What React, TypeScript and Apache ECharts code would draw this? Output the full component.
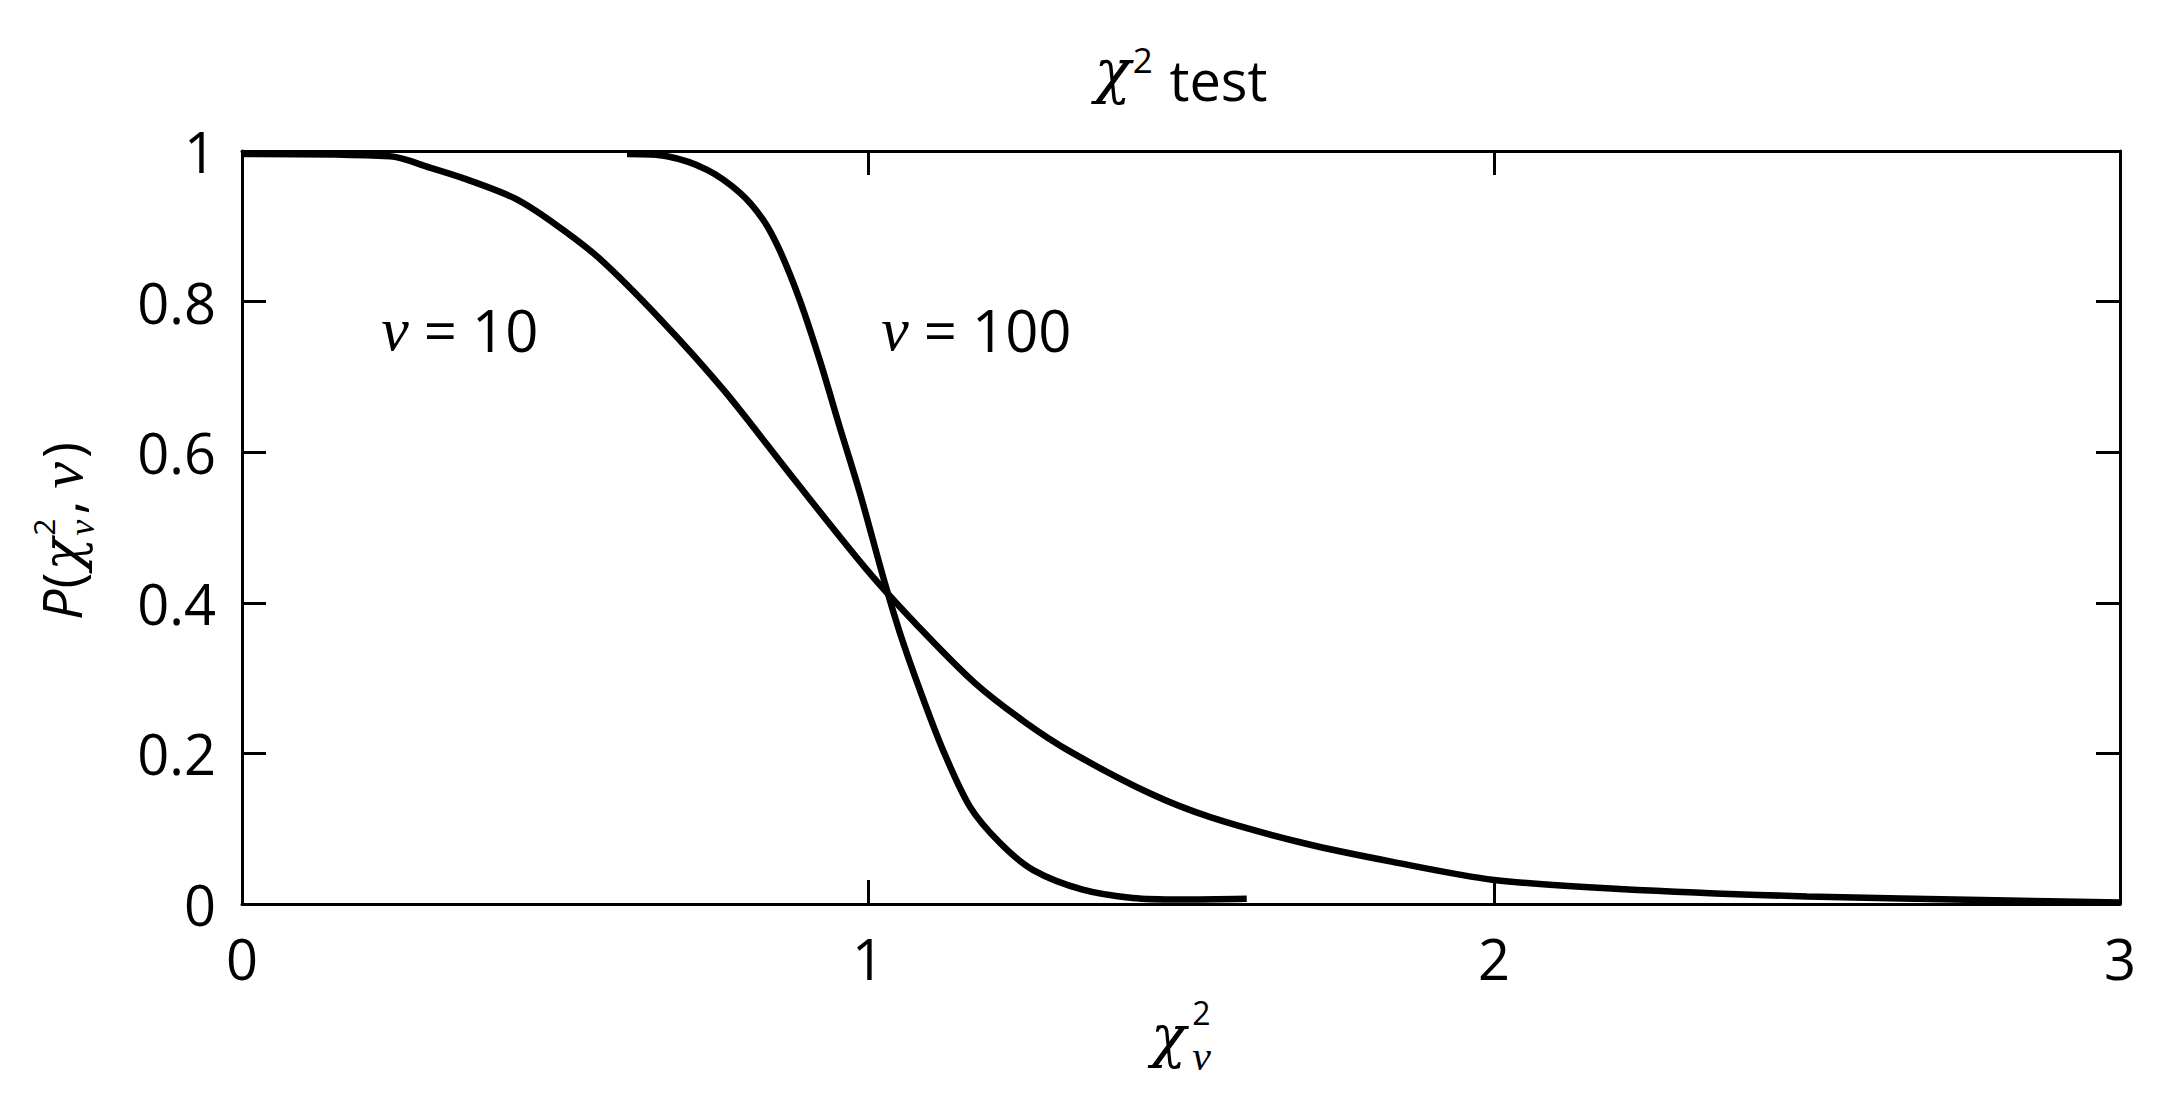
import React, { useEffect, useRef } from "react";
import * as echarts from "echarts";

// ---- data ----
const xTicks = [0, 1, 2, 3];
const yTicks = [0, 0.2, 0.4, 0.6, 0.8, 1];

const nu10X = [0, 0.236, 0.3, 0.36, 0.436, 0.5, 0.57, 0.67, 0.77, 0.881, 1.0, 1.081, 1.17, 1.25, 1.326, 1.45, 1.548, 1.7, 1.838, 2.0, 2.2, 2.5, 2.8, 3.0];
const nu10Y = [0.996, 0.993, 0.978, 0.962, 0.937, 0.903, 0.858, 0.775, 0.682, 0.565, 0.442, 0.368, 0.294, 0.242, 0.201, 0.147, 0.115, 0.08, 0.056, 0.032, 0.02, 0.01, 0.005, 0.002];

const nu100X = [0.615, 0.679, 0.743, 0.796, 0.833, 0.859, 0.891, 0.923, 0.955, 0.987, 1.027, 1.051, 1.083, 1.12, 1.163, 1.211, 1.264, 1.343, 1.423, 1.5, 1.605];
const nu100Y = [0.996, 0.993, 0.975, 0.944, 0.908, 0.868, 0.802, 0.722, 0.633, 0.546, 0.426, 0.36, 0.284, 0.204, 0.129, 0.081, 0.045, 0.019, 0.008, 0.006, 0.007];

const curveLabels = [
  { name: "10", x: 0.348, y: 0.763 },
  { name: "100", x: 1.173, y: 0.763 },
];

const SANS = "'Open Sans', 'Noto Sans', sans-serif";
const SERIF = "'Liberation Serif', 'DejaVu Serif', serif";
const CHI = "'DejaVu Serif', 'Liberation Serif', serif";

type Piece = { t: string; size: number; serif?: boolean; chi?: boolean; italic?: boolean; base?: number; stack?: boolean; gap?: number; dx?: number };

let measureCtx: CanvasRenderingContext2D | null = null;
function fontStr(p: Piece) {
  const fam = p.chi ? CHI : p.serif ? SERIF : SANS;
  return `${p.italic ? "italic " : ""}${p.size}px ${fam}`;
}
function measure(p: Piece) {
  if (!measureCtx) measureCtx = document.createElement("canvas").getContext("2d");
  if (!measureCtx) return p.t.length * p.size * 0.55;
  measureCtx.font = fontStr(p);
  return measureCtx.measureText(p.t).width;
}

function buildGroup(pieces: Piece[], x: number, y: number, rotation = 0) {
  let cursor = 0;
  let pending = 0;
  const items: any[] = [];
  for (const p of pieces) {
    const w = measure(p);
    const k = p.chi ? 0.36 : p.serif ? 0.3375 : 0.388;
    items.push({ p, x: cursor + (p.dx || 0), y: (p.base || 0) - k * p.size });
    if (p.stack) {
      pending = Math.max(pending, w);
    } else {
      cursor += Math.max(w, pending) + (p.gap || 0);
      pending = 0;
    }
  }
  const total = cursor;
  return {
    type: "group",
    x,
    y,
    rotation,
    silent: true,
    children: items.map((it) => ({
      type: "text",
      x: it.x - total / 2,
      y: it.y,
      style: {
        text: it.p.t,
        font: fontStr(it.p),
        fill: "#000",
        align: "left",
        verticalAlign: "middle",
      },
    })),
  };
}

export default function App() {
  const ref = useRef<HTMLDivElement>(null);

  useEffect(() => {
    if (!ref.current) return;
    const chart = echarts.init(ref.current, undefined, { renderer: "svg" });

    const axisLine = { show: true, onZero: false, lineStyle: { color: "#000", width: 3 } };
    const axisTick = { show: true, inside: true, length: 24, lineStyle: { color: "#000", width: 3 } };
    const labelStyle = { color: "#000", fontSize: 56, fontFamily: SANS };

    const title = buildGroup(
      [
        { t: "χ", size: 60, chi: true, italic: true, base: -8, gap: 2 },
        { t: "2", size: 35, base: -28, gap: 2 },
        { t: " test", size: 56, base: 0 },
      ],
      1181,
      101
    );

    const xName = buildGroup(
      [
        { t: "χ", size: 58, chi: true, italic: true, base: 2, gap: 6 },
        { t: "2", size: 32, base: -30, stack: true },
        { t: "ν", size: 42, serif: true, italic: true, base: 15 },
      ],
      1181,
      1055
    );

    const yName = buildGroup(
      [
        { t: "P", size: 54, italic: true, gap: 1 },
        { t: "(", size: 54, gap: 2 },
        { t: "χ", size: 54, chi: true, italic: true, gap: 2 },
        { t: "2", size: 30, base: -27, stack: true },
        { t: "ν", size: 36, serif: true, italic: true, base: 12, gap: 4 },
        { t: ",", size: 54, gap: 12 },
        { t: "ν", size: 60, serif: true, italic: true, gap: 4 },
        { t: ")", size: 54 },
      ],
      82,
      531,
      Math.PI / 2
    );

    const option: any = {
      animation: false,
      backgroundColor: "#fff",
      grid: { left: 242, right: 63, top: 151, bottom: 197 },
      xAxis: [
        {
          type: "value",
          min: xTicks[0],
          max: xTicks[xTicks.length - 1],
          interval: 1,
          position: "bottom",
          axisLine,
          axisTick,
          axisLabel: { ...labelStyle, margin: 26 },
          splitLine: { show: false },
        },
        {
          type: "value",
          min: xTicks[0],
          max: xTicks[xTicks.length - 1],
          interval: 1,
          position: "top",
          axisLine,
          axisTick,
          axisLabel: { show: false },
          splitLine: { show: false },
        },
      ],
      yAxis: [
        {
          type: "value",
          min: yTicks[0],
          max: yTicks[yTicks.length - 1],
          interval: 0.2,
          position: "left",
          axisLine,
          axisTick,
          axisLabel: { ...labelStyle, margin: 26 },
          splitLine: { show: false },
        },
        {
          type: "value",
          min: yTicks[0],
          max: yTicks[yTicks.length - 1],
          interval: 0.2,
          position: "right",
          axisLine,
          axisTick,
          axisLabel: { show: false },
          splitLine: { show: false },
        },
      ],
      series: [
        {
          type: "line",
          name: "ν = 10",
          data: nu10X.map((x, i) => [x, nu10Y[i]]),
          showSymbol: false,
          smooth: 0.3,
          lineStyle: { color: "#000", width: 6.5 },
          silent: true,
          markPoint: {
            symbol: "circle",
            symbolSize: 1,
            itemStyle: { color: "transparent" },
            silent: true,
            data: curveLabels.map((l) => ({
              coord: [l.x, l.y],
              value: l.name,
              label: {
                show: true,
                position: "inside",
                formatter: `{g|ν}{n| = ${l.name}}`,
                rich: {
                  g: { fontFamily: SERIF, fontStyle: "italic", fontSize: 62, color: "#000" },
                  n: { fontFamily: SANS, fontSize: 58, color: "#000" },
                },
              },
            })),
          },
        },
        {
          type: "line",
          name: "ν = 100",
          data: nu100X.map((x, i) => [x, nu100Y[i]]),
          showSymbol: false,
          smooth: 0.3,
          lineStyle: { color: "#000", width: 6.5 },
          silent: true,
        },
      ],
      graphic: [title, xName, yName],
    };

    chart.setOption(option);
    return () => chart.dispose();
  }, []);

  return (
    <div
      ref={ref}
      style={{ position: "absolute", left: 0, top: 0, width: 2183, height: 1101, background: "#fff" }}
    />
  );
}
